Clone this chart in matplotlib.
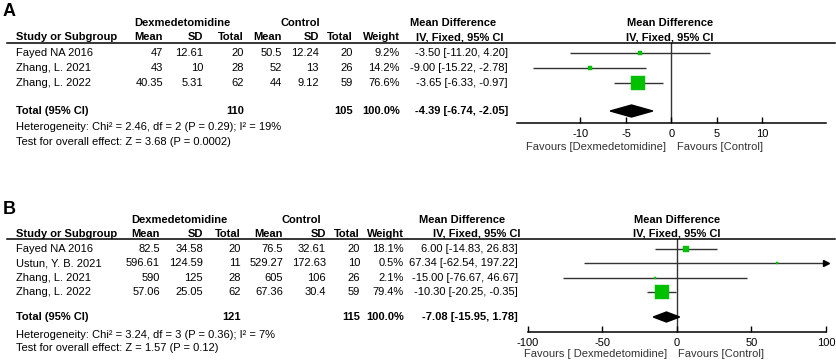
import matplotlib
matplotlib.use('Agg')
import matplotlib.pyplot as plt
from matplotlib.lines import Line2D

plt.rcParams['font.family'] = ['Liberation Sans', 'DejaVu Sans']
plt.rcParams['axes.unicode_minus'] = False

W, H = 837, 362

# ---- Panel A data ----
a_studies = ["Fayed NA 2016", "Zhang, L. 2021", "Zhang, L. 2022"]
a_dex_mean = [47, 43, 40.35]
a_dex_sd = [12.61, 10, 5.31]
a_dex_n = [20, 28, 62]
a_ctl_mean = [50.5, 52, 44]
a_ctl_sd = [12.24, 13, 9.12]
a_ctl_n = [20, 26, 59]
a_weight = [9.2, 14.2, 76.6]
a_md = [-3.50, -9.00, -3.65]
a_lo = [-11.20, -15.22, -6.33]
a_hi = [4.20, -2.78, -0.97]
a_total = (-4.39, -6.74, -2.05)
a_tot_n = (110, 105)
a_het = "Heterogeneity: Chi² = 2.46, df = 2 (P = 0.29); I² = 19%"
a_test = "Test for overall effect: Z = 3.68 (P = 0.0002)"
a_ticks = [-10, -5, 0, 5, 10]

# ---- Panel B data ----
b_studies = ["Fayed NA 2016", "Ustun, Y. B. 2021", "Zhang, L. 2021", "Zhang, L. 2022"]
b_dex_mean = [82.5, 596.61, 590, 57.06]
b_dex_sd = [34.58, 124.59, 125, 25.05]
b_dex_n = [20, 11, 28, 62]
b_ctl_mean = [76.5, 529.27, 605, 67.36]
b_ctl_sd = [32.61, 172.63, 106, 30.4]
b_ctl_n = [20, 10, 26, 59]
b_weight = [18.1, 0.5, 2.1, 79.4]
b_md = [6.00, 67.34, -15.00, -10.30]
b_lo = [-14.83, -62.54, -76.67, -20.25]
b_hi = [26.83, 197.22, 46.67, -0.35]
b_total = (-7.08, -15.95, 1.78)
b_tot_n = (121, 115)
b_het = "Heterogeneity: Chi² = 3.24, df = 3 (P = 0.36); I² = 7%"
b_test = "Test for overall effect: Z = 1.57 (P = 0.12)"
b_ticks = [-100, -50, 0, 50, 100]

FS = 8
GREEN = '#00c000'

fig = plt.figure(figsize=(W / 100, H / 100), dpi=100)


def put(x, y, s, **kw):
    kw.setdefault('fontsize', FS)
    kw.setdefault('va', 'center')
    fig.text(x / W, 1 - y / H, s, **kw)


def panel(letter, lay, studies, dmean, dsd, dn, cmean, csd, cn, weight,
          md, lo, hi, total, tot_n, het, test, ticks, xlim):
    put(3, lay['letter_y'], letter, fontsize=13, fontweight='bold')
    y1, y2 = lay['head_y']
    put(lay['dex_c'], y1, "Dexmedetomidine", ha='center', fontweight='bold')
    put(lay['ctl_c'], y1, "Control", ha='center', fontweight='bold')
    put(lay['md_c'], y1, "Mean Difference", ha='center', fontweight='bold')
    put(lay['plot_c'], y1, "Mean Difference", ha='center', fontweight='bold')
    put(16, y2, "Study or Subgroup", ha='left', fontweight='bold')
    cols = lay['cols']
    for x, lab in zip(cols, ["Mean", "SD", "Total", "Mean", "SD", "Total", "Weight"]):
        put(x, y2, lab, ha='right', fontweight='bold')
    put(lay['iv_c'], y2, "IV, Fixed, 95% CI", ha='center', fontweight='bold')
    put(lay['plot_c'], y2, "IV, Fixed, 95% CI", ha='center', fontweight='bold')
    fig.add_artist(Line2D([7 / W, 835 / W], [1 - lay['line_y'] / H] * 2,
                          color='black', lw=1.1))

    for i, s in enumerate(studies):
        y = lay['rows'][i]
        put(16, y, s, ha='left')
        vals = [f"{dmean[i]:g}", f"{dsd[i]:g}", f"{dn[i]}",
                f"{cmean[i]:g}", f"{csd[i]:g}", f"{cn[i]}", f"{weight[i]:.1f}%"]
        for x, v in zip(cols, vals):
            put(x, y, v, ha='right')
        put(lay['ci_r'], y, f"{md[i]:.2f} [{lo[i]:.2f}, {hi[i]:.2f}]", ha='right')

    yt = lay['total_y']
    put(16, yt, "Total (95% CI)", ha='left', fontweight='bold')
    put(cols[2], yt, f"{tot_n[0]}", ha='right', fontweight='bold')
    put(cols[5], yt, f"{tot_n[1]}", ha='right', fontweight='bold')
    put(cols[6], yt, "100.0%", ha='right', fontweight='bold')
    put(lay['ci_r'], yt, f"{total[0]:.2f} [{total[1]:.2f}, {total[2]:.2f}]",
        ha='right', fontweight='bold')
    put(16, lay['het_y'], het, ha='left')
    put(16, lay['test_y'], test, ha='left')

    # forest plot axes (row units: 0 = first study)
    x0, x1 = lay['ax_x']
    top, bot = lay['line_y'], lay['axis_y']
    ax = fig.add_axes([x0 / W, 1 - bot / H, (x1 - x0) / W, (bot - top) / H])
    rows_u = [(r - lay['rows'][0]) / lay['step'] for r in lay['rows']]
    tot_u = (yt - lay['rows'][0]) / lay['step']
    ax.set_ylim((bot - lay['rows'][0]) / lay['step'], (top - lay['rows'][0]) / lay['step'])
    ax.set_xlim(*xlim)
    for sp in ['top', 'left', 'right']:
        ax.spines[sp].set_visible(False)
    ax.spines['bottom'].set_linewidth(1.1)
    ax.set_yticks([])
    ax.set_xticks(ticks)
    ax.set_xticklabels([f"{t}" for t in ticks])
    ax.tick_params(axis='x', direction='in', length=4, width=1, pad=4.5, labelsize=FS)
    ax.axvline(0, color='#333333', lw=1.0, zorder=1)
    ax.patch.set_alpha(0)

    for i in range(len(md)):
        y = rows_u[i]
        right = min(hi[i], xlim[1])
        ax.plot([max(lo[i], xlim[0]), right], [y, y], color='#333333', lw=1.0,
                zorder=2, solid_capstyle='butt')
        if hi[i] > xlim[1]:
            ax.plot([xlim[1]], [y], marker='>', color='black', markersize=4,
                    clip_on=False, zorder=3)
        side_px = max(2.0, 0.7 * weight[i] ** 0.68)
        ax.plot([md[i]], [y], marker='s', color=GREEN, markeredgecolor=GREEN,
                markersize=side_px * 0.72, markeredgewidth=0.3, zorder=3)

    est, tlo, thi = total
    hh = lay['dia_h'] / lay['step']
    ax.fill([tlo, est, thi, est], [tot_u, tot_u - hh, tot_u, tot_u + hh],
            color='black', zorder=3)

    fy = lay['fav_y']
    put(lay['fav_l'], fy, lay['fav_l_txt'], ha='right', color='#333333')
    put(lay['fav_r'], fy, "Favours [Control]", ha='left', color='#333333')


layA = dict(letter_y=12, head_y=(23, 37), line_y=43,
            dex_c=182, ctl_c=300, md_c=453, iv_c=460, plot_c=670,
            cols=[163, 203, 244, 282, 319, 353, 400], ci_r=508,
            rows=[53, 68, 83], step=15, total_y=111, het_y=127, test_y=142,
            ax_x=(516.8, 826.2), axis_y=123, dia_h=6,
            fav_y=147, fav_l=666, fav_r=677, fav_l_txt="Favours [Dexmedetomidine]")

layB = dict(letter_y=209, head_y=(220, 234), line_y=239,
            dex_c=179, ctl_c=301, md_c=462, iv_c=477, plot_c=677,
            cols=[160, 203, 241, 283, 326, 360, 404], ci_r=518,
            rows=[249, 263.3, 277.7, 292], step=14.33, total_y=317, het_y=335, test_y=348,
            ax_x=(528, 826), axis_y=332, dia_h=5,
            fav_y=354, fav_l=667, fav_r=678, fav_l_txt="Favours [ Dexmedetomidine]")

panel("A", layA, a_studies, a_dex_mean, a_dex_sd, a_dex_n, a_ctl_mean, a_ctl_sd,
      a_ctl_n, a_weight, a_md, a_lo, a_hi, a_total, a_tot_n, a_het, a_test,
      a_ticks, (-17, 17))
panel("B", layB, b_studies, b_dex_mean, b_dex_sd, b_dex_n, b_ctl_mean, b_ctl_sd,
      b_ctl_n, b_weight, b_md, b_lo, b_hi, b_total, b_tot_n, b_het, b_test,
      b_ticks, (-100, 100))

fig.savefig("out.png", dpi=100)
